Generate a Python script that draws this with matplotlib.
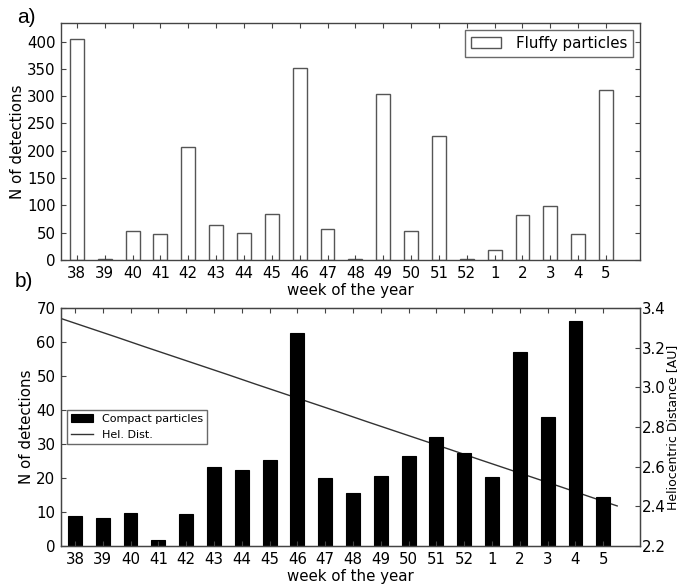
import numpy as np
import matplotlib
matplotlib.use("Agg")
import matplotlib.pyplot as plt

weeks = ["38", "39", "40", "41", "42", "43", "44", "45", "46", "47",
         "48", "49", "50", "51", "52", "1", "2", "3", "4", "5"]
fluffy = [404, 2, 53, 48, 207, 64, 49, 84, 352, 56,
          2, 304, 53, 227, 2, 18, 82, 99, 48, 311]
compact = [8.8, 8.1, 9.7, 1.7, 9.5, 23.1, 22.4, 25.2, 62.6, 20.0,
           15.6, 20.6, 26.5, 32.0, 27.5, 20.4, 57.1, 38.0, 66.2, 14.3]
# heliocentric distance read at week boundaries (start of week 38 ... end of week 5)
hel_dist = [3.347, 3.300, 3.253, 3.205, 3.158, 3.111, 3.064, 3.016, 2.969, 2.922,
            2.875, 2.827, 2.780, 2.733, 2.686, 2.638, 2.591, 2.544, 2.497, 2.449, 2.402]

FS = 10.8
frame_col = "#444444"
plt.rcParams["font.family"] = ["DejaVu Sans"]

fig = plt.figure(figsize=(6.79, 5.86), dpi=100)
fig.patch.set_facecolor("white")

x = np.arange(len(weeks))


def style(ax):
    for s in ax.spines.values():
        s.set_color(frame_col)
        s.set_linewidth(1.0)
    ax.tick_params(direction="in", length=3.5, width=0.8, color=frame_col,
                   labelsize=FS, top=True, right=True, pad=4)
    ax.set_xticks(x)
    ax.set_xticklabels(weeks)


# ---- panel a
ax1 = fig.add_axes([61 / 679, 1 - 260 / 586, 579 / 679, 237 / 586])
ax1.bar(x, fluffy, width=0.5, facecolor="white", edgecolor="#555555",
        linewidth=1.0, label="Fluffy particles")
ax1.set_xlim(-0.57, 20.22)
ax1.set_ylim(0, 434)
ax1.set_yticks(np.arange(0, 401, 50))
style(ax1)
ax1.set_xlabel("week of the year", fontsize=FS, labelpad=2)
ax1.set_ylabel("N of detections", fontsize=FS)
ax1.yaxis.set_label_coords(-0.062, 0.5)
leg1 = ax1.legend(loc="upper right", fontsize=FS, frameon=True, fancybox=False,
                  borderaxespad=0.45, handlelength=2.0, handletextpad=1.0,
                  borderpad=0.4)
leg1.get_frame().set_edgecolor(frame_col)
leg1.get_frame().set_linewidth(1.0)

# ---- panel b
ax2 = fig.add_axes([61 / 679, 1 - 546 / 586, 579 / 679, 238 / 586])
bars = ax2.bar(x, compact, width=0.5, facecolor="black", edgecolor="black",
               linewidth=0.8, label="Compact particles")
ax2.set_xlim(-0.5, 20.32)
ax2.set_ylim(0, 70)
ax2.set_yticks(np.arange(0, 71, 10))
style(ax2)
ax2.tick_params(right=False)
ax2.set_xlabel("week of the year", fontsize=FS, labelpad=2)
ax2.set_ylabel("N of detections", fontsize=FS)
ax2.yaxis.set_label_coords(-0.046, 0.5)

ax3 = ax2.twinx()
hx = np.arange(len(hel_dist)) - 0.5
line, = ax3.plot(hx, hel_dist, color="#333333", linewidth=1.0, label="Hel. Dist.")
ax3.set_ylim(2.2, 3.4)
ax3.set_yticks(np.arange(2.2, 3.41, 0.2))
ax3.set_yticklabels([f"{v:.1f}" for v in np.arange(2.2, 3.41, 0.2)])
ax3.set_xlim(-0.5, 20.32)
for s in ax3.spines.values():
    s.set_color(frame_col)
ax3.tick_params(direction="in", length=3.5, width=0.8, color=frame_col,
                labelsize=FS, pad=1)
ax3.set_ylabel("Heliocentric Distance [AU]", fontsize=9)
ax3.yaxis.set_label_coords(1.045, 0.5)

leg2 = ax2.legend([bars, line], ["Compact particles", "Hel. Dist."],
                  loc="center left", bbox_to_anchor=(0.0, 0.5), fontsize=8,
                  frameon=True, fancybox=False, borderaxespad=0.5,
                  handlelength=2.0, handletextpad=0.75, borderpad=0.4)
leg2.get_frame().set_edgecolor(frame_col)
leg2.get_frame().set_linewidth(1.0)
ax2.set_zorder(ax3.get_zorder() + 1)
ax2.patch.set_visible(False)

fig.text(17 / 679, 1 - 23 / 586, "a)", fontsize=15, family="Liberation Sans",
         ha="left", va="baseline")
fig.text(15 / 679, 1 - 287 / 586, "b)", fontsize=15, family="Liberation Sans",
         ha="left", va="baseline")

fig.savefig("out.png", dpi=100, facecolor="white")
